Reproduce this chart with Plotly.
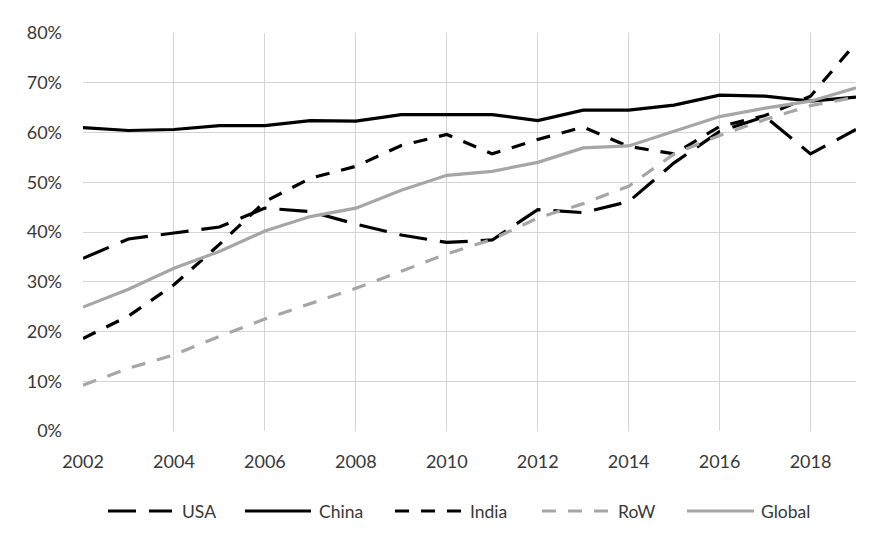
import plotly.graph_objects as go

years = list(range(2002, 2020))
usa = [34.7, 38.6, 39.8, 41.0, 44.8, 44.1, 41.6, 39.4, 37.9, 38.4, 44.5, 43.9, 46.1, 53.9, 60.2, 63.2, 55.7, 60.6]
china = [61.0, 60.4, 60.6, 61.4, 61.4, 62.4, 62.3, 63.6, 63.6, 63.6, 62.4, 64.5, 64.5, 65.5, 67.5, 67.3, 66.3, 67.1]
india = [18.6, 23.1, 29.4, 37.5, 46.1, 50.8, 53.2, 57.4, 59.6, 55.7, 58.6, 61.1, 57.2, 55.7, 61.2, 63.4, 67.3, 78.0]
row = [9.2, 12.6, 15.3, 19.0, 22.5, 25.6, 28.7, 32.1, 35.6, 38.5, 42.8, 45.7, 49.2, 55.7, 59.4, 62.6, 65.4, 67.1]
glob = [24.9, 28.5, 32.7, 36.1, 40.2, 43.1, 44.8, 48.4, 51.4, 52.2, 54.0, 56.9, 57.3, 60.2, 63.2, 64.9, 66.3, 69.0]
names = ["USA", "China", "India", "RoW", "Global"]

styles = {
    "USA": ("black", "28px,13px"),
    "China": ("black", "solid"),
    "India": ("black", "14px,12px"),
    "RoW": ("#a6a6a6", "14px,12px"),
    "Global": ("#a6a6a6", "solid"),
}
data = {"USA": usa, "China": china, "India": india, "RoW": row, "Global": glob}

fig = go.Figure()
for name in names:
    color, dash = styles[name]
    fig.add_trace(go.Scatter(
        x=years, y=[v / 100 for v in data[name]], name=name, mode="lines",
        line=dict(color=color, width=3.2, dash=dash), showlegend=False,
    ))

# plot area in page pixels (page has 8px body offset)
PL, PR, PT, PB = 83, 856, 33, 431
def px(x):
    return (x - PL) / (PR - PL)
def py(y):
    return (PB - y) / (PB - PT)

# manual legend (sample x0, x1, text x) in page pixels
leg_pos = {
    "USA": (108, 172, 180),
    "China": (245, 311, 317),
    "India": (395, 462, 468),
    "RoW": (542, 609, 616),
    "Global": (687, 754, 759),
}
leg_y = 511
txt_color = "#383838"
font_family = "Lato, 'Open Sans', sans-serif"
shapes, annotations = [], []
for name in names:
    color, dash = styles[name]
    x0, x1, tx = leg_pos[name]
    shapes.append(dict(type="line", xref="paper", yref="paper",
                       x0=px(x0), x1=px(x1), y0=py(leg_y), y1=py(leg_y),
                       line=dict(color=color, width=3.2, dash=dash)))
    annotations.append(dict(text=name, xref="paper", yref="paper",
                            x=px(tx), y=py(leg_y), xanchor="left", yanchor="middle",
                            showarrow=False, font=dict(size=17.5, color=txt_color)))

fig.update_layout(
    width=893, height=539,
    margin=dict(l=PL - 8, r=893 - (PR - 8), t=PT - 8, b=539 - (PB - 8)),
    paper_bgcolor="white", plot_bgcolor="white",
    font=dict(family=font_family, size=18, color=txt_color),
    xaxis=dict(
        range=[2002, 2019], tickvals=list(range(2002, 2019, 2)),
        showgrid=True, gridcolor="#d4d4d4", gridwidth=1.3,
        zeroline=False, showline=False, ticks="",
        tickfont=dict(size=18, color=txt_color),
        ticklabelstandoff=18,
    ),
    yaxis=dict(
        range=[0, 0.8], dtick=0.1, tickformat=".0%",
        showgrid=True, gridcolor="#d4d4d4", gridwidth=1.3,
        zeroline=False, showline=False, ticks="",
        tickfont=dict(size=18, color=txt_color),
        ticklabelstandoff=20,
    ),
    shapes=shapes,
    annotations=annotations,
    showlegend=False,
)

fig.write_html("out.html")
